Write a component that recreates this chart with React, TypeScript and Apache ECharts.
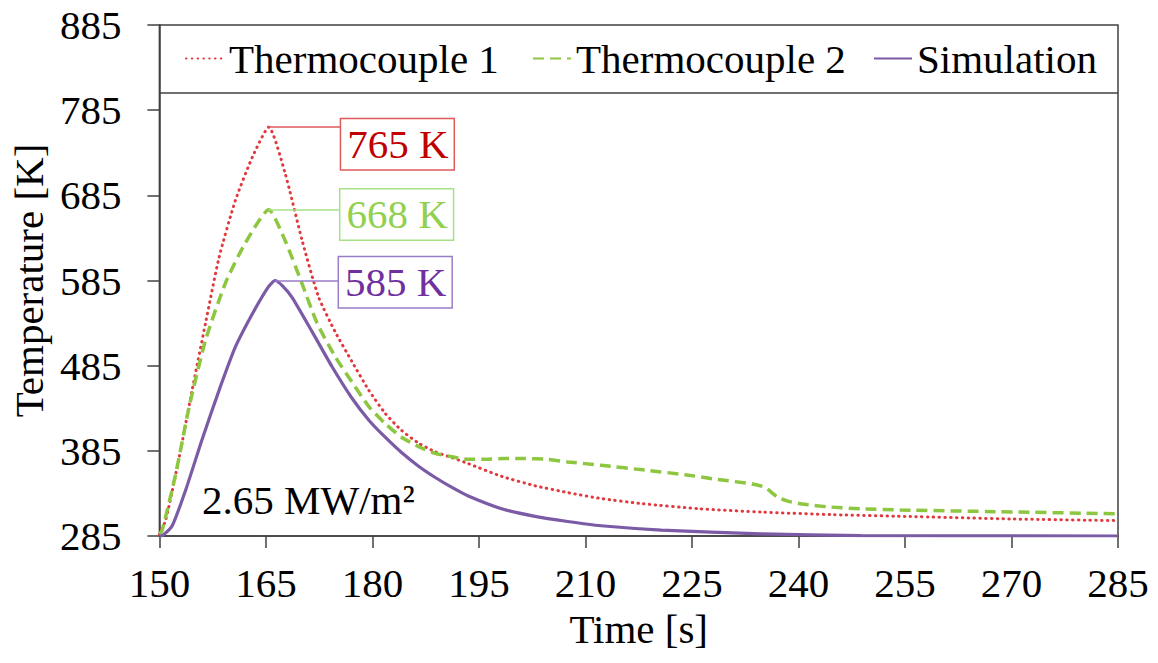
import React, { useEffect, useRef } from 'react';
import * as echarts from 'echarts';

const FONT = 'Liberation Serif';
const FS = 41;

const xMin = 150;
const xMax = 285;
const xStep = 15;
const yTicks = [285, 385, 485, 585, 685, 785, 885];
const legendNames = ['Thermocouple 1', 'Thermocouple 2', 'Simulation'];

const tc1Data: [number, number][] = [
  [150, 287], [150.9, 304], [152.8, 378], [154.6, 456], [156.5, 535], [158.4, 612],
  [160.7, 679], [163.1, 730], [165.4, 765], [167.7, 711], [170.1, 632], [172.4, 566],
  [174.8, 524], [177.1, 490], [179.5, 456], [181.8, 429], [184.1, 409], [186.5, 394],
  [188.8, 384], [191.2, 377], [193.5, 370], [198.2, 355], [202.9, 344], [207.5, 336],
  [212.2, 329], [218, 323], [226, 317], [235, 313], [245, 310], [255, 308], [270, 305],
  [285, 303],
];

const tc2Data: [number, number][] = [
  [150, 287], [150.4, 292], [152.3, 358], [154.2, 437], [156.5, 515], [159.3, 582],
  [162.1, 629], [165.4, 668], [167.7, 632], [170.1, 581], [172.2, 535], [174.8, 495],
  [177.1, 466], [179.5, 437], [181.8, 417], [184.1, 401], [186.5, 390], [188.8, 382],
  [191.2, 378], [193.5, 375], [196, 375], [198.5, 376], [201.5, 376], [204.7, 375],
  [207.5, 372], [212.2, 368], [218.8, 362], [224, 357], [228.1, 352], [233.5, 346],
  [235.3, 342], [237, 331], [238.5, 326], [240.5, 322.5], [244.5, 319], [248.8, 317],
  [254.4, 315.5], [268.4, 313.5], [285, 311],
];

const simData: [number, number][] = [
  [150, 285], [150.5, 286], [151.8, 297], [153.7, 339], [156, 398], [158.4, 456],
  [160.7, 507], [163.1, 546], [165.3, 577], [166.3, 585], [167.3, 579], [168.7, 565],
  [171.5, 525], [174.3, 484], [177.1, 447], [179.5, 421], [181.8, 401], [184.1, 383],
  [186.5, 367], [188.8, 354], [191.2, 342], [193.5, 332], [198.2, 317], [202.9, 308],
  [207.5, 302], [212.2, 297], [220.7, 292], [234.7, 287.5], [248.8, 285.5], [285, 285],
];

const peakTimes = [165.4, 165.4, 166.3];
const peakTemps = [765, 668, 585];
const peakLabels = ['765 K', '668 K', '585 K'];
const labelTimes = [175.6, 175.5, 175.3];
const labelTemps = [745, 662.5, 583];
const legendBoxTemp = 805;
const fluxText = '2.65 MW/m²';
const fluxAnchor: [number, number] = [156, 327];

const lineColors = ['#e0393e', '#8dc63f', '#7b5aa6'];
const boxColors = ['#e05a5a', '#a8e08a', '#9b7cc8'];
const textColors = ['#c00000', '#92d050', '#7030a0'];
const legendLefts = [180, 527, 868];

function peakLine(i: number) {
  return {
    silent: true,
    symbol: ['none', 'none'],
    label: { show: false },
    lineStyle: { type: 'solid', color: boxColors[i], width: 1.5 },
    data: [[{ coord: [peakTimes[i], peakTemps[i]] }, { coord: [labelTimes[i], peakTemps[i]] }]] as any[],
  };
}

function peakLabel(i: number) {
  return {
    coord: [labelTimes[i], labelTemps[i]],
    value: peakLabels[i],
    label: {
      show: true,
      position: 'right',
      distance: 0,
      formatter: peakLabels[i],
      fontFamily: FONT,
      fontSize: FS,
      lineHeight: 42,
      color: textColors[i],
      backgroundColor: '#ffffff',
      borderColor: boxColors[i],
      borderWidth: 1.5,
      padding: [4, 5, 4, 6],
    },
  };
}

export default function App() {
  const ref = useRef<HTMLDivElement>(null);
  useEffect(() => {
    if (!ref.current) return;
    const chart = echarts.init(ref.current, undefined, { renderer: 'svg' });
    const axisColor = '#404040';
    const redLine = peakLine(0);
    redLine.data.push({ yAxis: legendBoxTemp, lineStyle: { color: axisColor, width: 1.5, type: 'solid' } });
    const option: any = {
      animation: false,
      backgroundColor: '#ffffff',
      textStyle: { fontFamily: FONT },
      grid: {
        left: 157, right: 40, top: 25, bottom: 127,
        show: true, borderColor: axisColor, borderWidth: 1.5, backgroundColor: 'transparent',
      },
      legend: legendNames.map((n, i) => ({
        data: [n],
        top: 33,
        left: legendLefts[i],
        itemWidth: 38,
        itemHeight: 14,
        itemStyle: { opacity: 0 },
        textStyle: { fontFamily: FONT, fontSize: FS, color: '#000' },
      })),
      xAxis: {
        type: 'value',
        min: xMin,
        max: xMax,
        interval: xStep,
        name: 'Time [s]',
        nameLocation: 'middle',
        nameGap: 72,
        nameTextStyle: { fontFamily: FONT, fontSize: FS, color: '#000' },
        axisLine: { show: true, lineStyle: { color: axisColor, width: 1.5 } },
        axisTick: { show: true, length: 12, lineStyle: { color: axisColor, width: 1.5 } },
        axisLabel: { fontFamily: FONT, fontSize: FS, color: '#000', margin: 26 },
        splitLine: { show: false },
      },
      yAxis: {
        type: 'value',
        min: yTicks[0],
        max: yTicks[yTicks.length - 1],
        name: 'Temperature [K]',
        nameLocation: 'middle',
        nameGap: 110,
        nameTextStyle: { fontFamily: FONT, fontSize: FS, color: '#000' },
        axisLine: { show: true, lineStyle: { color: axisColor, width: 1.5 } },
        axisTick: { show: true, length: 12, customValues: yTicks, lineStyle: { color: axisColor, width: 1.5 } },
        axisLabel: { fontFamily: FONT, fontSize: FS, color: '#000', margin: 38, customValues: yTicks },
        splitLine: { show: false },
      },
      series: [
        {
          name: legendNames[0],
          type: 'line',
          data: tc1Data,
          symbol: 'none',
          smooth: 0.2,
          z: 3,
          itemStyle: { color: lineColors[0] },
          lineStyle: { color: lineColors[0], width: 3, type: [0.5, 5.3], cap: 'round' },
          markLine: redLine,
          markPoint: { silent: true, symbol: 'circle', symbolSize: 0, data: [peakLabel(0)] },
        },
        {
          name: legendNames[1],
          type: 'line',
          data: tc2Data,
          symbol: 'none',
          smooth: 0.2,
          z: 3,
          itemStyle: { color: lineColors[1] },
          lineStyle: { color: lineColors[1], width: 3.5, type: [11, 6] },
          markLine: peakLine(1),
          markPoint: { silent: true, symbol: 'circle', symbolSize: 0, data: [peakLabel(1)] },
        },
        {
          name: legendNames[2],
          type: 'line',
          data: simData,
          symbol: 'none',
          smooth: 0.2,
          z: 3,
          itemStyle: { color: lineColors[2] },
          lineStyle: { color: lineColors[2], width: 3.2, type: 'solid' },
          markLine: peakLine(2),
          markPoint: {
            silent: true,
            symbol: 'circle',
            symbolSize: 0,
            data: [
              peakLabel(2),
              {
                coord: fluxAnchor,
                value: fluxText,
                label: {
                  show: true, position: 'right', distance: 0, formatter: fluxText,
                  fontFamily: FONT, fontSize: FS, color: '#000',
                },
              },
            ],
          },
        },
      ],
    };
    chart.setOption(option);
    return () => chart.dispose();
  }, []);
  return (
    <div
      ref={ref}
      style={{ position: 'fixed', left: 0, top: 0, width: 1158, height: 663, background: '#fff' }}
    />
  );
}
